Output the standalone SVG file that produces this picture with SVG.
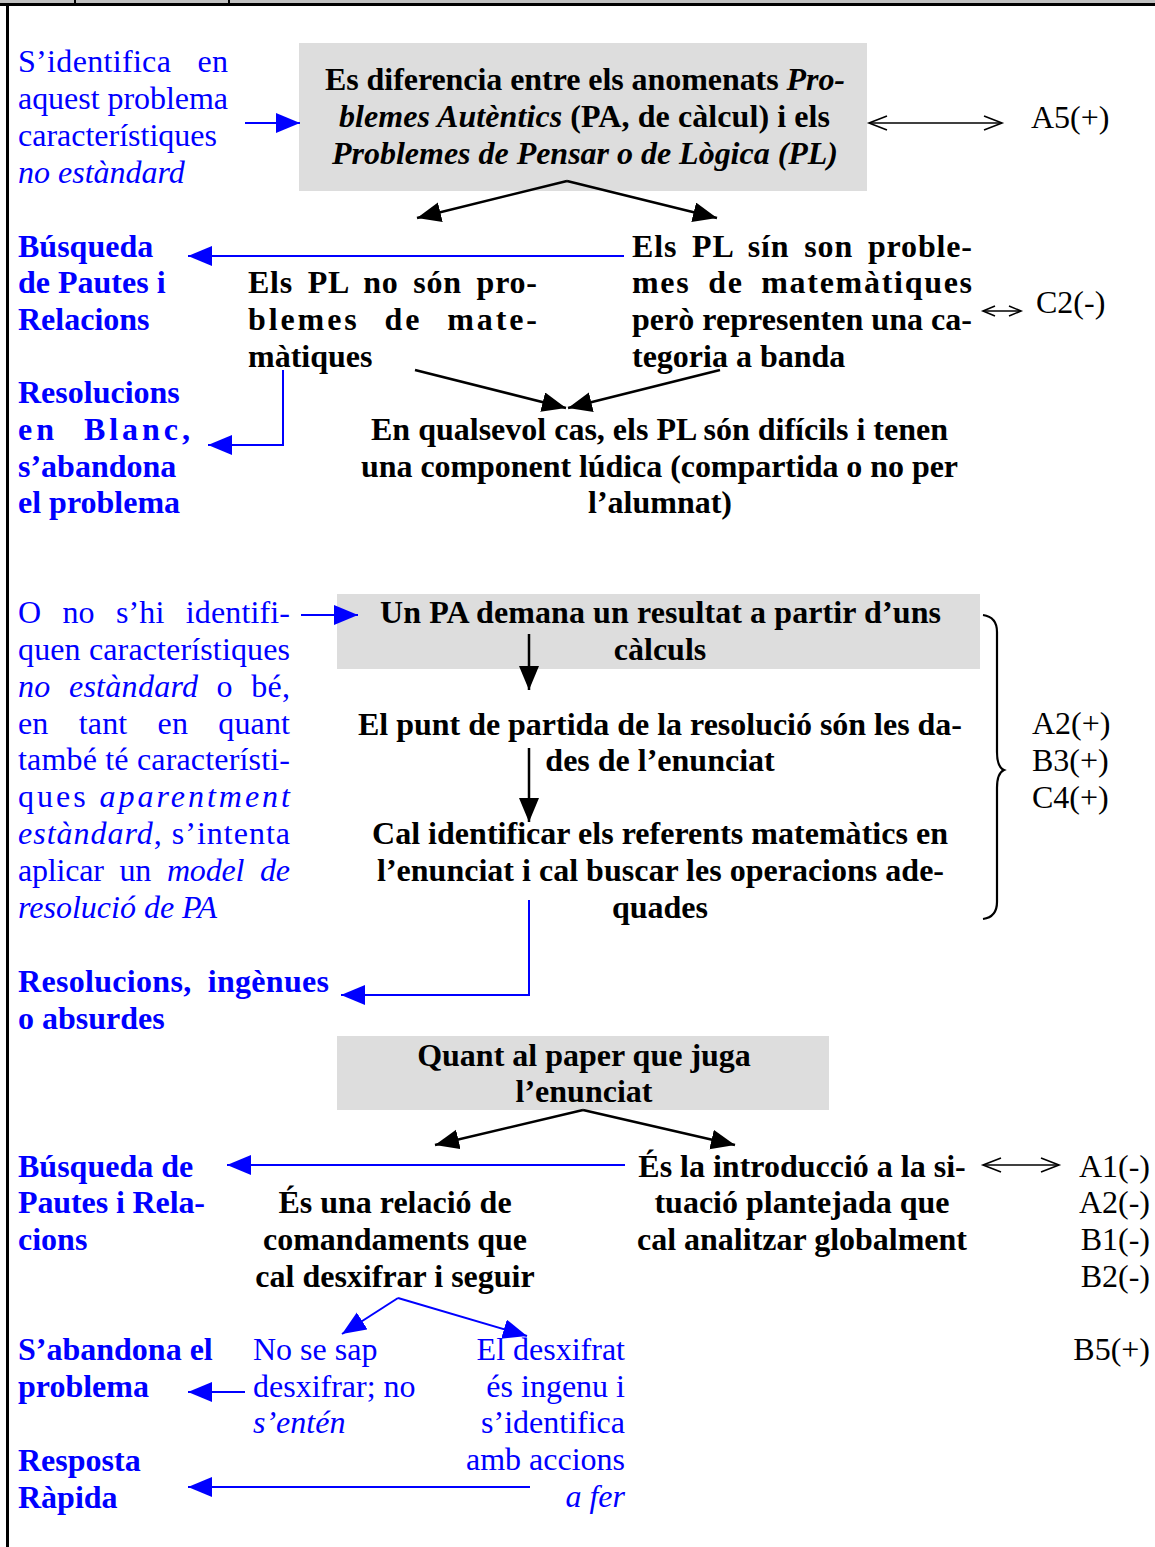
<svg xmlns="http://www.w3.org/2000/svg" width="1155" height="1547" viewBox="0 0 1155 1547">
  <style>
    text { font-family: "Liberation Serif", "Times New Roman", serif; font-size: 32px; }
    .b { font-weight: bold; fill: #000; }
    .bb { font-weight: bold; fill: #0000ff; }
    .blu { fill: #0000ff; }
    .k { fill: #000; }
    .i { font-style: italic; }
    .box { fill: #dddddd; }
    .c { text-anchor: middle; }
    .r { text-anchor: end; }
    .lb { stroke: #0000ff; stroke-width: 2; fill: none; }
    .lk { stroke: #000; stroke-width: 2.5; fill: none; }
    .lt { stroke: #000; stroke-width: 1.5; fill: none; }
  </style>
  <defs>
    <marker id="hb" markerUnits="userSpaceOnUse" markerWidth="26" markerHeight="22" refX="24" refY="10" orient="auto">
      <path d="M0,0 L24,10 L0,20 z" fill="#0000ff"/>
    </marker>
    <marker id="hk" markerUnits="userSpaceOnUse" markerWidth="26" markerHeight="22" refX="24" refY="10" orient="auto">
      <path d="M0,0 L24,10 L0,20 z" fill="#000"/>
    </marker>
    <marker id="ho" markerUnits="userSpaceOnUse" markerWidth="22" markerHeight="18" refX="19" refY="8" orient="auto-start-reverse">
      <path d="M1,1 L19,8 L1,15" fill="none" stroke="#000" stroke-width="1.6"/>
    </marker>
    <marker id="hs" markerUnits="userSpaceOnUse" markerWidth="16" markerHeight="14" refX="13" refY="6" orient="auto-start-reverse">
      <path d="M1,1 L13,6 L1,11" fill="none" stroke="#000" stroke-width="1.6"/>
    </marker>
  </defs>

  <!-- page frame -->
  <g id="frame">
    <rect x="0" y="0" width="1155" height="3" fill="#c0c0c0"/>
    <line x1="0" y1="4.5" x2="1155" y2="4.5" stroke="#000" stroke-width="3"/>
    <line x1="75" y1="0" x2="75" y2="5" stroke="#000" stroke-width="2"/>
    <line x1="229" y1="0" x2="229" y2="5" stroke="#000" stroke-width="2"/>
    <line x1="7.5" y1="4" x2="7.5" y2="1547" stroke="#000" stroke-width="3"/>
  </g>

  <!-- section 1 -->
  <g id="n-identifica">
    <text class="blu" x="18" y="72" word-spacing="18" textLength="210" lengthAdjust="spacing">S’identifica en</text>
    <text class="blu" x="18" y="109" textLength="210" lengthAdjust="spacing">aquest problema</text>
    <text class="blu" x="18" y="146">característiques</text>
    <text class="blu i" x="18" y="183">no estàndard</text>
  </g>

  <g id="n-diferencia">
    <rect class="box" x="299" y="43" width="568" height="148"/>
    <text class="b" x="325" y="90" textLength="520" lengthAdjust="spacing">Es diferencia entre els anomenats <tspan class="i">Pro-</tspan></text>
    <text class="b" x="339" y="127" textLength="491" lengthAdjust="spacing"><tspan class="i">blemes Autèntics</tspan> (PA, de càlcul) i els</text>
    <text class="b i" x="332" y="164" textLength="506" lengthAdjust="spacing">Problemes de Pensar o de Lògica (PL)</text>
  </g>

  <g id="n-a5">
    <text class="k" x="1031" y="128">A5(+)</text>
  </g>

  <g id="n-busqueda1">
    <text class="bb" x="18" y="257">Búsqueda</text>
    <text class="bb" x="18" y="293">de Pautes i</text>
    <text class="bb" x="18" y="330">Relacions</text>
  </g>

  <g id="n-pl-no">
    <text class="b" x="248" y="293" word-spacing="6" textLength="289" lengthAdjust="spacing">Els PL no són pro-</text>
    <text class="b" x="248" y="330" word-spacing="14" textLength="289" lengthAdjust="spacing">blemes de mate-</text>
    <text class="b" x="248" y="367">màtiques</text>
  </g>

  <g id="n-pl-si">
    <text class="b" x="632" y="257" word-spacing="6" textLength="340" lengthAdjust="spacing">Els PL sín son proble-</text>
    <text class="b" x="632" y="293" word-spacing="8" textLength="340" lengthAdjust="spacing">mes de matemàtiques</text>
    <text class="b" x="632" y="330" textLength="340" lengthAdjust="spacing">però representen una ca-</text>
    <text class="b" x="632" y="367">tegoria a banda</text>
  </g>

  <g id="n-c2">
    <text class="k" x="1036" y="313">C2(-)</text>
  </g>

  <g id="n-blanc">
    <text class="bb" x="18" y="403">Resolucions</text>
    <text class="bb" x="18" y="440" word-spacing="14" textLength="172" lengthAdjust="spacing">en Blanc,</text>
    <text class="bb" x="18" y="477">s’abandona</text>
    <text class="bb" x="18" y="513">el problema</text>
  </g>

  <g id="n-qualsevol">
    <text class="b" x="371" y="440" textLength="577" lengthAdjust="spacing">En qualsevol cas, els PL són difícils i tenen</text>
    <text class="b" x="361" y="477" textLength="597" lengthAdjust="spacing">una component lúdica (compartida o no per</text>
    <text class="b c" x="660" y="513">l’alumnat)</text>
  </g>

  <!-- section 2 -->
  <g id="n-no-identifica">
    <text class="blu" x="18" y="623" word-spacing="13" textLength="272" lengthAdjust="spacing">O no s’hi identifi-</text>
    <text class="blu" x="18" y="660" textLength="272" lengthAdjust="spacing">quen característiques</text>
    <text class="blu" x="18" y="697" word-spacing="10" textLength="272" lengthAdjust="spacing"><tspan class="i">no estàndard</tspan> o bé,</text>
    <text class="blu" x="18" y="734" word-spacing="22" textLength="272" lengthAdjust="spacing">en tant en quant</text>
    <text class="blu" x="18" y="770" textLength="272" lengthAdjust="spacing">també té característi-</text>
    <text class="blu" x="18" y="807" textLength="272" lengthAdjust="spacing">ques <tspan class="i">aparentment</tspan></text>
    <text class="blu" x="18" y="844" textLength="272" lengthAdjust="spacing"><tspan class="i">estàndard</tspan>, s’intenta</text>
    <text class="blu" x="18" y="881" word-spacing="8" textLength="272" lengthAdjust="spacing">aplicar un <tspan class="i">model de</tspan></text>
    <text class="blu i" x="18" y="918">resolució de PA</text>
  </g>

  <g id="n-pa">
    <rect class="box" x="337" y="594" width="643" height="75"/>
    <text class="b" x="380" y="623" textLength="561" lengthAdjust="spacing">Un PA demana un resultat a partir d’uns</text>
    <text class="b c" x="660" y="660">càlculs</text>
  </g>

  <g id="n-punt">
    <text class="b" x="358" y="735" textLength="604" lengthAdjust="spacing">El punt de partida de la resolució són les da-</text>
    <text class="b c" x="660" y="771">des de l’enunciat</text>
  </g>

  <g id="n-referents">
    <text class="b" x="372" y="844" textLength="576" lengthAdjust="spacing">Cal identificar els referents matemàtics en</text>
    <text class="b" x="377" y="881" textLength="567" lengthAdjust="spacing">l’enunciat i cal buscar les operacions ade-</text>
    <text class="b c" x="660" y="918">quades</text>
  </g>

  <g id="n-codes2">
    <path d="M983,615 Q997,617 997,632 L997,752 Q997,767 1004,770 Q997,773 997,788 L997,902 Q997,917 983,919" fill="none" stroke="#000" stroke-width="2.2"/>
    <text class="k" x="1032" y="734">A2(+)</text>
    <text class="k" x="1032" y="771">B3(+)</text>
    <text class="k" x="1032" y="808">C4(+)</text>
  </g>

  <g id="n-ingenues">
    <text class="bb" x="18" y="992" word-spacing="8" textLength="311" lengthAdjust="spacing">Resolucions, ingènues</text>
    <text class="bb" x="18" y="1029">o absurdes</text>
  </g>

  <!-- section 3 -->
  <g id="n-paper">
    <rect class="box" x="337" y="1036" width="492" height="74"/>
    <text class="b c" x="584" y="1066">Quant al paper que juga</text>
    <text class="b c" x="584" y="1102">l’enunciat</text>
  </g>

  <g id="n-busqueda2">
    <text class="bb" x="18" y="1177">Búsqueda de</text>
    <text class="bb" x="18" y="1213" textLength="187" lengthAdjust="spacing">Pautes i Rela-</text>
    <text class="bb" x="18" y="1250">cions</text>
  </g>

  <g id="n-comandaments">
    <text class="b c" x="395" y="1213">És una relació de</text>
    <text class="b c" x="395" y="1250">comandaments que</text>
    <text class="b c" x="395" y="1287">cal desxifrar i seguir</text>
  </g>

  <g id="n-introduccio">
    <text class="b c" x="802" y="1177">És la introducció a la si-</text>
    <text class="b c" x="802" y="1213">tuació plantejada que</text>
    <text class="b c" x="802" y="1250">cal analitzar globalment</text>
  </g>

  <g id="n-codes3">
    <text class="k r" x="1150" y="1177">A1(-)</text>
    <text class="k r" x="1150" y="1213">A2(-)</text>
    <text class="k r" x="1150" y="1250">B1(-)</text>
    <text class="k r" x="1150" y="1287">B2(-)</text>
    <text class="k r" x="1150" y="1360">B5(+)</text>
  </g>

  <g id="n-abandona">
    <text class="bb" x="18" y="1360">S’abandona el</text>
    <text class="bb" x="18" y="1397">problema</text>
  </g>

  <g id="n-rapida">
    <text class="bb" x="18" y="1471">Resposta</text>
    <text class="bb" x="18" y="1508">Ràpida</text>
  </g>

  <g id="n-no-sap">
    <text class="blu" x="253" y="1360">No se sap</text>
    <text class="blu" x="253" y="1397">desxifrar; no</text>
    <text class="blu i" x="253" y="1433">s’entén</text>
  </g>

  <g id="n-desxifrat">
    <text class="blu r" x="625" y="1360">El desxifrat</text>
    <text class="blu r" x="625" y="1397">és ingenu i</text>
    <text class="blu r" x="625" y="1433">s’identifica</text>
    <text class="blu r" x="625" y="1470">amb accions</text>
    <text class="blu r i" x="625" y="1507">a fer</text>
  </g>

  <!-- connectors -->
  <g id="connectors">
    <line class="lb" x1="245" y1="123" x2="300" y2="123" marker-end="url(#hb)"/>
    <line class="lt" x1="869" y1="123" x2="1002" y2="123" marker-start="url(#ho)" marker-end="url(#ho)"/>
    <line class="lk" x1="567" y1="181" x2="417" y2="218" marker-end="url(#hk)"/>
    <line class="lk" x1="567" y1="181" x2="717" y2="218" marker-end="url(#hk)"/>
    <line class="lb" x1="624" y1="256" x2="188" y2="256" marker-end="url(#hb)"/>
    <line class="lt" x1="983" y1="311" x2="1021" y2="311" marker-start="url(#hs)" marker-end="url(#hs)"/>
    <line class="lk" x1="415" y1="370" x2="566" y2="408" marker-end="url(#hk)"/>
    <line class="lk" x1="720" y1="370" x2="568" y2="408" marker-end="url(#hk)"/>
    <polyline class="lb" points="283,370 283,445 208,445" marker-end="url(#hb)"/>

    <line class="lb" x1="301" y1="615" x2="358" y2="615" marker-end="url(#hb)"/>
    <line class="lk" x1="529" y1="634" x2="529" y2="690" marker-end="url(#hk)"/>
    <line class="lk" x1="529" y1="748" x2="529" y2="822" marker-end="url(#hk)"/>
    <polyline class="lb" points="529,900 529,995 341,995" marker-end="url(#hb)"/>

    <line class="lk" x1="583" y1="1110" x2="435" y2="1145" marker-end="url(#hk)"/>
    <line class="lk" x1="583" y1="1110" x2="735" y2="1145" marker-end="url(#hk)"/>
    <line class="lb" x1="625" y1="1165" x2="227" y2="1165" marker-end="url(#hb)"/>
    <line class="lt" x1="983" y1="1165" x2="1059" y2="1165" marker-start="url(#ho)" marker-end="url(#ho)"/>
    <line class="lb" x1="398" y1="1298" x2="342" y2="1334" marker-end="url(#hb)"/>
    <line class="lb" x1="398" y1="1298" x2="527" y2="1336" marker-end="url(#hb)"/>
    <line class="lb" x1="245" y1="1392" x2="188" y2="1392" marker-end="url(#hb)"/>
    <line class="lb" x1="530" y1="1487" x2="188" y2="1487" marker-end="url(#hb)"/>
  </g>
</svg>
